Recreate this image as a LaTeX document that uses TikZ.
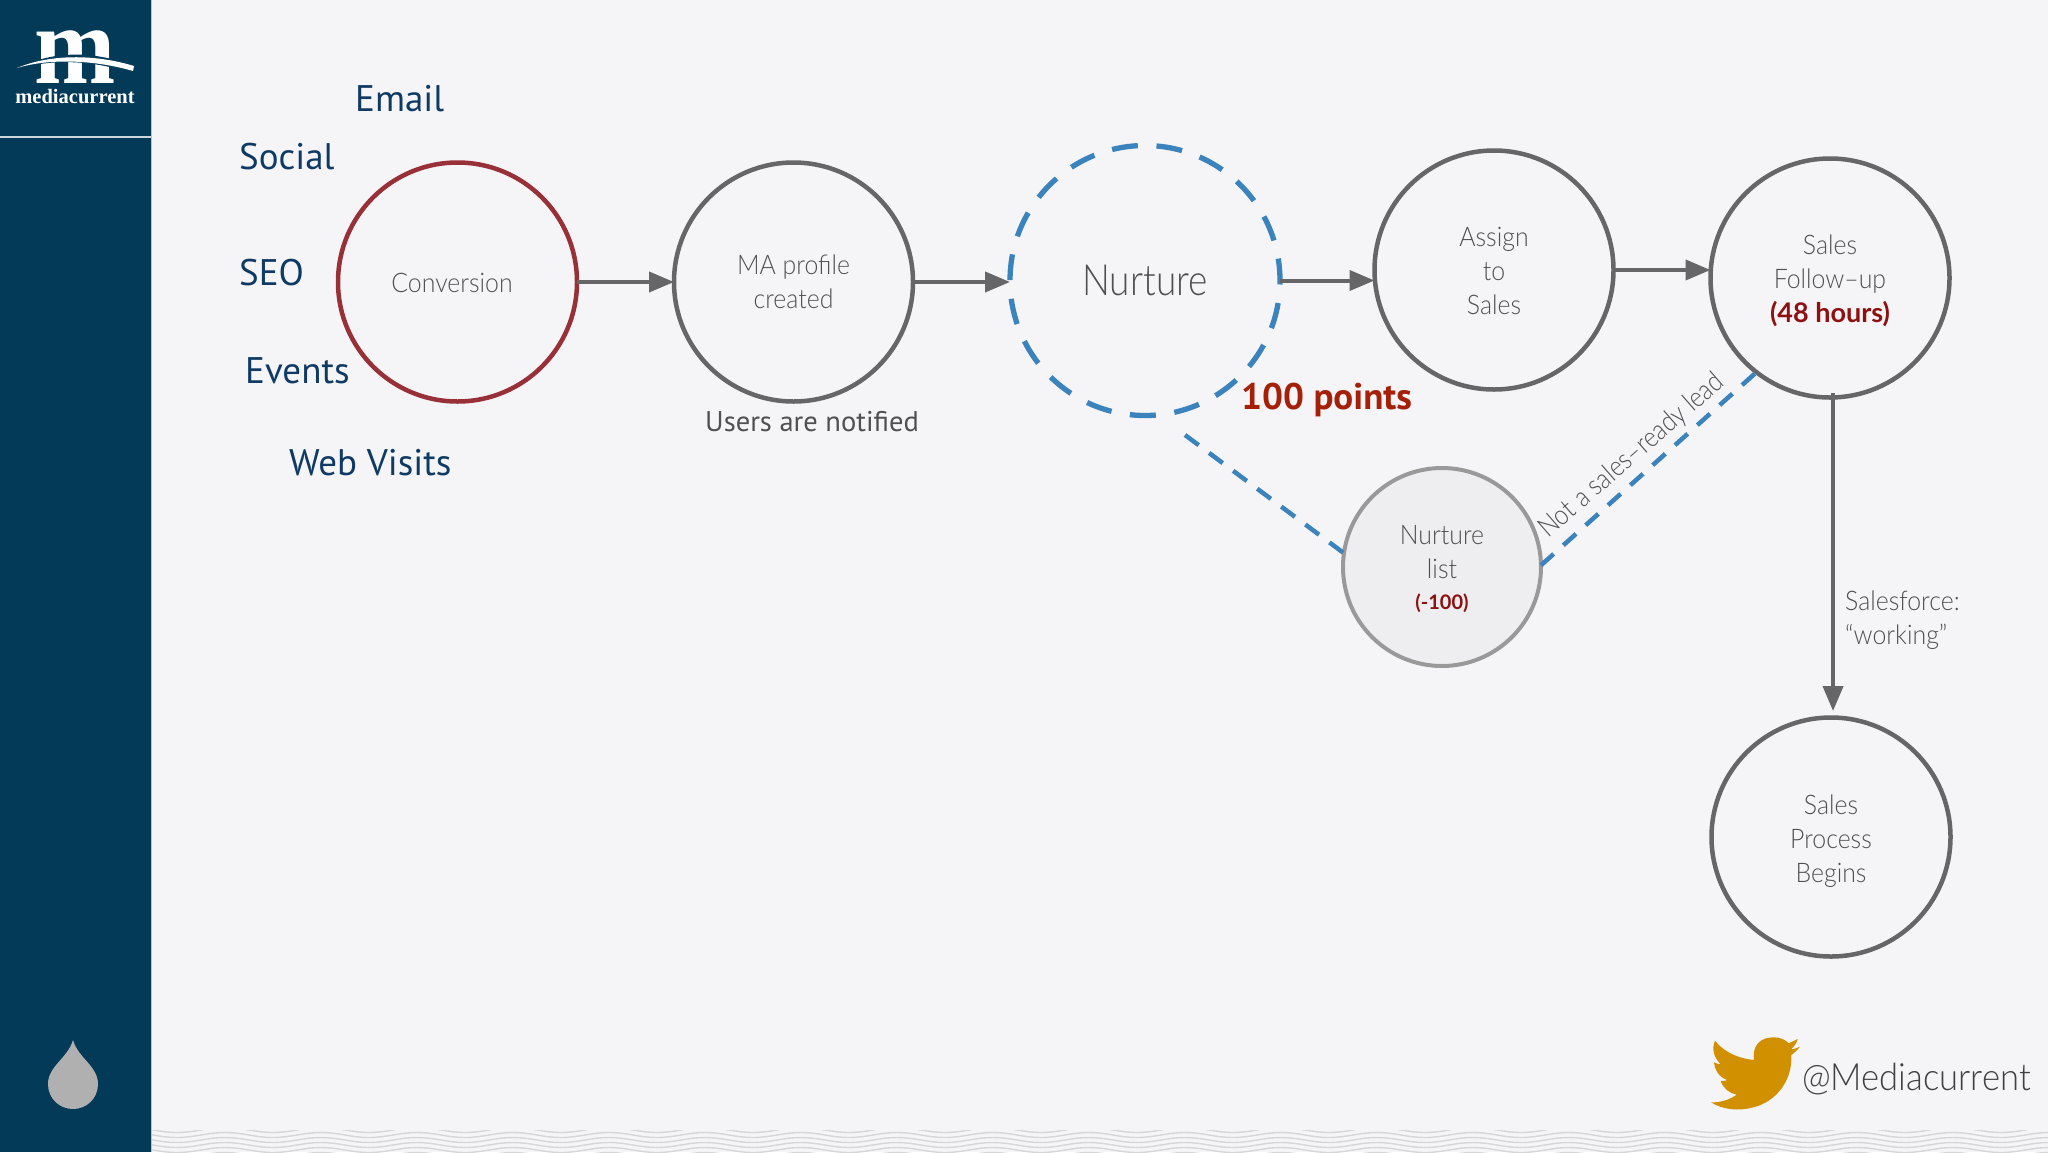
\documentclass[tikz,border=0pt]{standalone}
\usepackage{fontspec}
\setmainfont{Liberation Serif}
\newfontfamily\ptf{PT Sans}
\newfontfamily\ltf[FakeStretch=0.86]{Lato Light}
\newfontfamily\ltw[FakeStretch=0.92]{Lato Light}
\newfontfamily\ltb{Lato Bold}
\newcommand{\fsz}[2]{\fontsize{#1}{#2}\selectfont}
\definecolor{side}{HTML}{023A58}
\definecolor{bgc}{HTML}{F5F5F8}
\definecolor{gline}{HTML}{666668}
\definecolor{conv}{HTML}{983038}
\definecolor{dashb}{HTML}{3B83BD}
\definecolor{navy}{HTML}{0F3A63}
\definecolor{redt}{HTML}{A52008}
\definecolor{redd}{HTML}{8F1010}
\definecolor{txtg}{HTML}{505052}
\definecolor{wave}{HTML}{D6D6DA}
\definecolor{birdc}{HTML}{D09000}
\definecolor{dropc}{HTML}{B0B0B0}
\usetikzlibrary{arrows.meta}
\tikzset{
  flow/.style={circle,draw=gline,line width=4.5pt,minimum size=239pt,inner sep=0pt,outer sep=0pt,align=center,text=txtg,font=\ltw\fsz{27}{34}},
  ctext/.style={inner sep=0pt,align=center,text=txtg,font=\ltw\fsz{27}{34}},
  arr/.style={draw=gline,line width=4pt,-{Triangle[length=25pt,width=20pt]}},
  bluedash/.style={draw=dashb,line width=4.5pt,dash pattern=on 17pt off 13pt},
  src/.style={anchor=base west,text=navy,font=\ptf\fsz{37}{37},inner sep=0pt},
}
\begin{document}
\begin{tikzpicture}[x=1pt,y=-1pt]
\useasboundingbox (0,0) rectangle (2048,1152);
\fill[bgc] (0,0) rectangle (2048,1152);
% waves
\begin{scope}
\clip (151,1130.5) rectangle (2048,1152);
\foreach \yy in {1130,1135,1140,1145,1150,1155}{
  \draw[wave,line width=1.4pt] plot[domain=151:2048,samples=240,smooth] (\x,{\yy+2.5*cos((\x-177)*3.75)});
}
\end{scope}
% sidebar
\fill[side] (0,0) rectangle (151,1152);
\draw[white!70!side,line width=1pt] (151,0) -- (151,1152);
\draw[white!80!side,line width=1.5pt] (0,137) -- (151,137);
% logo
\node[inner sep=0pt,anchor=base,text=white,font=\bfseries\fsz{112}{60}] (logom) at (75,83) {\scalebox{0.87}[1]{m}};
\fill[side] (15,70) .. controls (50,50) and (95,50) .. (136,67) -- (134,74) .. controls (95,60) and (50,58) .. (15,70) -- cycle;
\fill[white] (17,68) .. controls (50,54) and (95,54) .. (134,66) -- (133,71) .. controls (95,60) and (50,58) .. (17,68) -- cycle;
\node[inner sep=0pt,anchor=base,text=white,font=\bfseries\fsz{20.5}{21.5}] (logot) at (75,103) {mediacurrent};
% drop
\fill[dropc] (73,1040) .. controls (78,1058) and (98,1066) .. (98,1084) .. controls (98,1099) and (86,1109) .. (73,1109) .. controls (60,1109) and (48,1099) .. (48,1084) .. controls (48,1066) and (68,1058) .. (73,1040) -- cycle;
% circles
\node[flow,draw=conv] (cv) at (457.5,282) {};
\node[ctext] (cvt) at (452,283) {Conversion};
\node[flow] (ma) at (793.5,282) {MA profile\\created};
\node[flow,draw=dashb,line width=5.3pt,dash pattern=on 26pt off 18.65pt,dash phase=4pt,minimum size=270pt,font=\ltf\fsz{43}{43}] (nur) at (1145,280.5) {Nurture};
\node[flow] (as) at (1494,270) {};
\node[ctext] (ast) at (1494,271) {Assign\\to\\Sales};
\node[flow] (sa) at (1830,278) {};
\node[ctext] (sat) at (1830,281) {Sales\\Follow–up\\{\ltb\fsz{27}{34}\color{redd}(48 hours)}};
\node[flow,minimum size=198pt,fill=black!3!bgc,draw=black!40,line width=4pt] (nl) at (1442,567) {};
\node[ctext] (nlt) at (1442,569.5) {Nurture\\list\\[-3pt]{\ltb\fsz{20}{26}\color{redd}(-100)}};
\node[flow] (pr) at (1831,837) {};
\node[ctext] (prt) at (1831,841) {Sales\\Process\\Begins};
% connectors
\draw[arr] (cv) -- (ma);
\draw[arr] (ma.east) -- (ma.east -| nur.west);
\draw[arr] (nur.east) -- (nur.east -| as.west);
\draw[arr] (as.east) -- (as.east -| sa.west);
\coordinate (sas) at (1833,393);
\coordinate (prn) at (1833,711);
\draw[arr] (sas) -- (prn);
\coordinate (nuro) at (1185,435);
\draw[bluedash] (nuro) -- (nl.172);
\draw[bluedash] (nl.1) -- (sa.232);
% labels
\node[src] (l1) at (355,111) {Email};
\node[src] (l2) at (239,169) {Social};
\node[src] (l3) at (239,285) {SEO};
\node[src] (l4) at (245,383) {Events};
\node[src] (l5) at (289,475) {Web Visits};
\node[anchor=base west,inner sep=0pt,text=redt,font=\ptf\bfseries\fsz{37}{37}] (pts) at (1241,409) {100 points};
\node[anchor=base west,inner sep=0pt,text=txtg,font=\ptf\fsz{28.5}{28.5}] (usr) at (705,431) {Users are notified};
\node[rotate=41,text=txtg,font=\ltf\fsz{28}{28},inner sep=0pt] (nsl) at (1632,456) {Not a sales–ready lead};
\node[anchor=north west,align=left,inner sep=0pt,text=txtg,font=\ltw\fsz{27}{34}] (sf) at (1845,591) {Salesforce:\\“working”};
% twitter
\begin{scope}[xshift=1600pt,yshift=-1000pt,x=0.3333pt,y=-0.3333pt]
\fill[birdc] (593,117) -- (566,130) .. controls (550,112) and (520,108) .. (495,116)
 .. controls (468,126) and (458,150) .. (462,180)
 .. controls (420,176) and (375,160) .. (345,122)
 .. controls (335,145) and (340,172) .. (362,192)
 .. controls (355,193) and (348,190) .. (342,187)
 .. controls (345,212) and (358,232) .. (382,240)
 .. controls (375,243) and (368,243) .. (362,243)
 .. controls (370,265) and (388,280) .. (410,284)
 .. controls (388,300) and (360,308) .. (333,307)
 .. controls (365,328) and (415,335) .. (460,322)
 .. controls (530,305) and (578,240) .. (574,165)
 .. controls (584,158) and (592,150) .. (600,140)
 .. controls (590,145) and (582,147) .. (573,148)
 .. controls (582,140) and (590,130) .. (593,117) -- cycle;
\end{scope}
\node[anchor=base west,inner sep=0pt,text=black!75,font=\ltw\fsz{37.6}{43}] (tw) at (1802,1090) {@Mediacurrent};
\end{tikzpicture}
\end{document}
